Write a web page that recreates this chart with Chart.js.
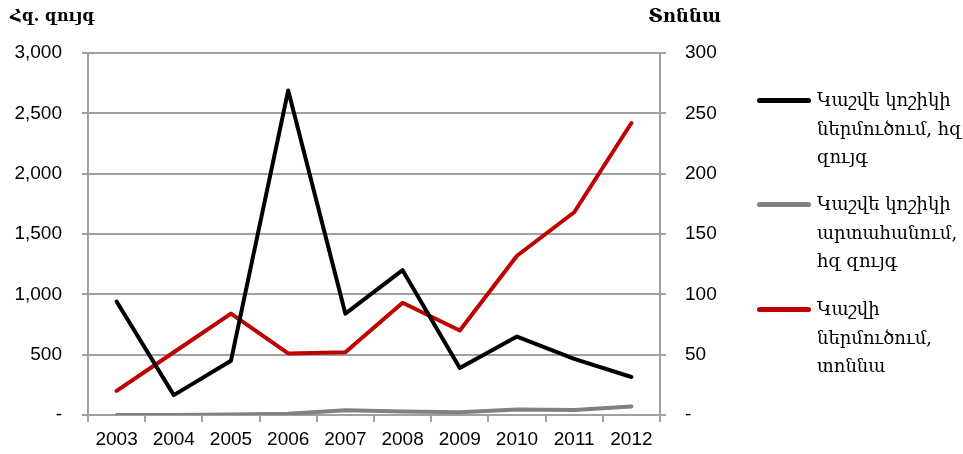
<!DOCTYPE html>
<html>
<head>
<meta charset="utf-8">
<script src="https://cdn.jsdelivr.net/npm/chart.js@4"></script>
<style>
body { margin: 0; background: #fff; }
#wrap { position: relative; width: 963px; height: 454px; }
#legend { position: absolute; left: 0; top: 0; }
.item { position: absolute; left: 757px; white-space: nowrap; }
.swatch { position: absolute; left: 0; width: 54px; height: 5px; border-radius: 3px; }
.label { position: absolute; left: 60px; top: 0; font-family: "DejaVu Serif", serif; font-size: 18px; line-height: 28.5px; color: #000; }
</style>
</head>
<body>
<div id="wrap">
  <canvas id="graph" width="963" height="454"></canvas>
  <div id="legend"></div>
</div>
<script>
// data
const years = ['2003', '2004', '2005', '2006', '2007', '2008', '2009', '2010', '2011', '2012'];
const importPairs = [940, 165, 450, 2690, 840, 1200, 390, 650, 465, 315];
const exportPairs = [0, 0, 5, 10, 40, 30, 22, 45, 42, 70];
const leatherTons = [20, 52, 84, 51, 52, 93, 70, 132, 168, 242];
const seriesNames = [
    ['Կաշվե կոշիկի', 'ներմուծում, հզ', 'զույգ'],
    ['Կաշվե կոշիկի', 'արտահանում,', 'հզ զույգ'],
    ['Կաշվի', 'ներմուծում,', 'տոննա']
];
const seriesColors = ['#000000', '#808080', '#c00000'];
const leftTitle = 'Հզ. զույգ';
const rightTitle = 'Տոննա';

const gridColor = '#a0a0a0';
const tickFont = { family: 'Liberation Sans', size: 19 };

// legend at the right
const legendTops = [86, 190, 295];
let legendHtml = '';
seriesNames.forEach(function (lines, i) {
    legendHtml += '<div class="item" style="top:' + legendTops[i] + 'px">' +
        '<div class="swatch" style="top:12px;background:' + seriesColors[i] + '"></div>' +
        '<div class="label">' + lines.join('<br>') + '</div></div>';
});
document.getElementById('legend').innerHTML = legendHtml;

// axis unit titles above the axes
const unitTitles = {
    id: 'unitTitles',
    afterDraw(chart) {
        const ctx = chart.ctx;
        ctx.save();
        ctx.fillStyle = '#000';
        ctx.textBaseline = 'middle';
        ctx.font = 'bold 16px "DejaVu Serif"';
        ctx.textAlign = 'left';
        ctx.fillText(leftTitle, 10, 17);
        ctx.font = 'bold 18px "DejaVu Serif"';
        ctx.textAlign = 'right';
        ctx.fillText(rightTitle, 721, 17);
        ctx.restore();
    }
};

function fmt(v) {
    return v === 0 ? '-' : v.toLocaleString('en-US');
}

const graph = document.getElementById('graph').getContext('2d');
new Chart(graph, {
    type: 'line',
    data: {
        labels: years,
        datasets: [{
            label: seriesNames[0].join(' '),
            data: importPairs,
            borderColor: seriesColors[0],
            yAxisID: 'y'
        }, {
            label: seriesNames[1].join(' '),
            data: exportPairs,
            borderColor: seriesColors[1],
            yAxisID: 'y'
        }, {
            label: seriesNames[2].join(' '),
            data: leatherTons,
            borderColor: seriesColors[2],
            yAxisID: 'y1'
        }]
    },
    options: {
        responsive: false,
        animation: false,
        layout: { padding: { top: 53, left: 0, right: 0, bottom: 0 } },
        elements: {
            line: { borderWidth: 4, tension: 0, borderCapStyle: 'round', borderJoinStyle: 'round', fill: false },
            point: { radius: 0, hoverRadius: 0 }
        },
        plugins: {
            legend: { display: false },
            tooltip: { enabled: false }
        },
        scales: {
            x: {
                offset: true,
                afterFit(scale) { scale.height = 39; },
                grid: { offset: true, drawOnChartArea: false, drawTicks: true, tickLength: 7, color: gridColor, lineWidth: 2 },
                border: { display: true, color: gridColor, width: 2 },
                ticks: { color: '#000', font: tickFont, padding: 6, maxRotation: 0 }
            },
            y: {
                position: 'left',
                min: 0,
                max: 3000,
                afterFit(scale) { scale.width = 88; },
                grid: { color: gridColor, lineWidth: 2, tickLength: 6 },
                border: { display: true, color: gridColor, width: 2 },
                ticks: { stepSize: 500, color: '#000', font: tickFont, padding: 20, callback: fmt }
            },
            y1: {
                position: 'right',
                min: 0,
                max: 300,
                afterFit(scale) { scale.width = 303; },
                grid: { drawOnChartArea: false, color: gridColor, lineWidth: 2, tickLength: 6 },
                border: { display: true, color: gridColor, width: 2 },
                ticks: { stepSize: 50, color: '#000', font: tickFont, padding: 19, callback: fmt }
            }
        }
    },
    plugins: [unitTitles]
});
</script>
</body>
</html>
